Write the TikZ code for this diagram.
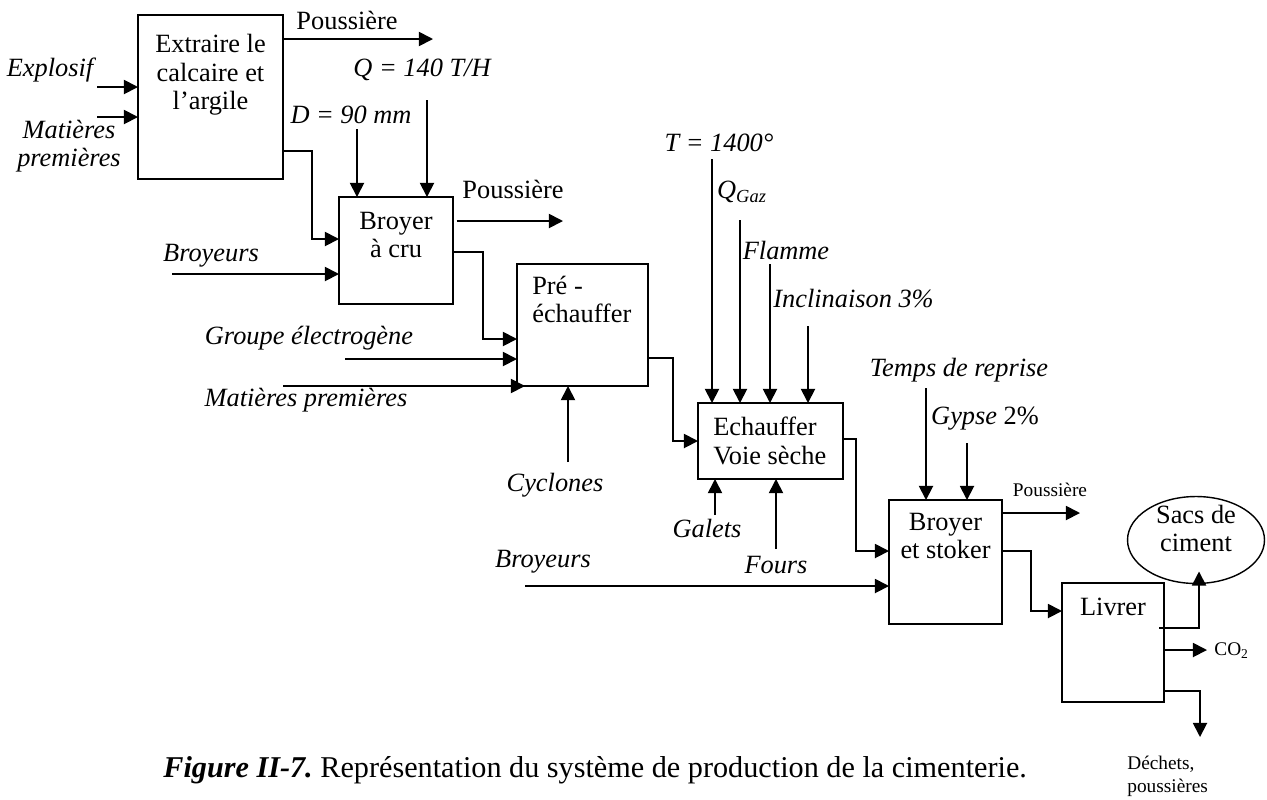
\documentclass[tikz,border=0pt]{standalone}
\usepackage{fontspec}
\setmainfont{Liberation Serif}
\usepackage{tikz}
\usetikzlibrary{calc,arrows.meta,positioning,shapes.geometric}
\frenchspacing
\tikzset{
    process/.style={draw,line width=0.8pt,inner sep=0pt,outer sep=0pt},
    stage/.style={inner sep=0pt,align=center,font=\fontsize{15}{16}\selectfont},
    stageleft/.style={stage,align=left},
    param/.style={inner sep=0pt,align=center,font=\fontsize{15}{16}\selectfont\itshape},
    product/.style={inner sep=0pt,font=\fontsize{15}{16}\selectfont},
    smallproduct/.style={inner sep=0pt,align=left,font=\fontsize{11}{13}\selectfont},
    flow/.style={->,>={Triangle[length=8pt,width=8pt]},line width=1pt}
}
\begin{document}
\begin{tikzpicture}[x=0.02cm,y=-0.02cm]
\useasboundingbox (0,0) rectangle (1267,799);
\node[process,minimum width=2.9cm,minimum height=3.28cm] (extr) at (210.5,97) {};
\node[process,minimum width=2.28cm,minimum height=2.14cm] (cru) at (396,250.5) {};
\node[process,minimum width=2.62cm,minimum height=2.44cm] (pre) at (582.5,325) {};
\node[process,minimum width=2.9cm,minimum height=1.52cm] (four) at (770.5,441) {};
\node[process,minimum width=2.26cm,minimum height=2.48cm] (stock) at (945.5,562) {};
\node[process,minimum width=2.04cm,minimum height=2.38cm] (livr) at (1113,642.5) {};
\node[process,ellipse,minimum width=2.74cm,minimum height=1.74cm] (sacs) at (1196,540) {};
\node[stage,below=11pt of extr.north] (extrtxt) {Extraire le\\calcaire et\\l’argile};
\node[stage,below=8.5pt of cru.north] (crutxt) {Broyer\\à cru};
\node[stageleft,below right=6.5pt and 8.5pt of pre.north west] (pretxt) {Pré -\\échauffer};
\node[stageleft,below right=8pt and 8.5pt of four.north west] (fourtxt) {Echauffer\\Voie sèche};
\node[stage,below=7.4pt of stock.north] (stocktxt) {Broyer\\et stoker};
\node[stage,below=8.5pt of livr.north] (livrtxt) {Livrer};
\node[stage,below=4.5pt of sacs.north] (sacstxt) {Sacs de\\ciment};

\coordinate (dust1) at (433,39);
\coordinate (explo) at (97,87);
\coordinate (rawA) at (97,117);
\coordinate (diam) at (357,129);
\coordinate (debit) at (427,100);
\coordinate (dust2) at (563,221);
\coordinate (crusher) at (172,274);
\coordinate (genset) at (345,359);
\coordinate (rawB) at (283,386);
\coordinate (cyclo) at (568,462);
\coordinate (temp) at (712,159);
\coordinate (gaz) at (740,220);
\coordinate (flame) at (770,264);
\coordinate (slope) at (808,326);
\coordinate (pebble) at (715,515);
\coordinate (kiln) at (776,549);
\coordinate (crusherB) at (525,586);
\coordinate (delay) at (926,388);
\coordinate (gyp) at (967,443);
\coordinate (dust3) at (1080,513);
\coordinate (gas) at (1207,650);
\coordinate (waste) at (1200,737);

\draw[flow] ($(extr.east)+(0,-58)$) -- (dust1);
\draw[flow] (explo) -- (explo -| extr.west);
\draw[flow] (rawA) -- (rawA -| extr.west);
\draw[flow] ($(extr.east)+(0,54)$) -- ++(29,0) |- ($(cru.west)+(0,-11.5)$);
\draw[flow] (diam) -- (diam |- cru.north);
\draw[flow] (debit) -- (debit |- cru.north);
\draw[flow,shorten <=2pt] (dust2 -| cru.east) -- (dust2);
\draw[flow] (crusher) -- (crusher -| cru.west);
\draw[flow] ($(cru.east)+(0,1.5)$) -- ++(30,0) |- ($(pre.west)+(0,14)$);
\draw[flow] (genset) -- (genset -| pre.west);
\draw[flow] (rawB) -- ($(pre.south west)+(8,0)$);
\draw[flow] (cyclo) -- (cyclo |- pre.south);
\draw[flow] ($(pre.east)+(0,33)$) -- ++(25,0) |- (four.west);
\draw[flow] (temp) -- (temp |- four.north);
\draw[flow] (gaz) -- (gaz |- four.north);
\draw[flow] (flame) -- (flame |- four.north);
\draw[flow] (slope) -- (slope |- four.north);
\draw[flow] (pebble) -- (pebble |- four.south);
\draw[flow] (kiln) -- (kiln |- four.south);
\draw[flow] ($(four.east)+(0,-2)$) -- ++(13,0) |- ($(stock.west)+(0,-11)$);
\draw[flow] (crusherB) -- (crusherB -| stock.west);
\draw[flow] (delay) -- (delay |- stock.north);
\draw[flow] (gyp) -- (gyp |- stock.north);
\draw[flow] ($(stock.east)+(0,-49)$) -- (dust3);
\draw[flow] ($(stock.east)+(0,-11)$) -- ++(29,0) |- ($(livr.west)+(0,-31.5)$);
\draw[flow] ($(livr.east)+(-5,-14.5)$) -| ($(sacs.south)+(3,-12)$);
\draw[flow] ($(livr.east)+(0,7.5)$) -- (gas);
\draw[flow] ($(livr.east)+(0,48.5)$) -| (waste);

\node[product] (dust1lbl) at (347,20) {Poussière};
\node[param] (explolbl) at (50,70) {Explosif};
\node[param] (rawAlbl) at (69,146) {Matières\\premières};
\node[param] (diamlbl) at (351,115) {D = 90 mm};
\node[param] (debitlbl) at (422,70) {Q = 140 T/H};
\node[param] (crusherlbl) at (211,256) {Broyeurs};
\node[product] (dust2lbl) at (513,189) {Poussière};
\node[param] (gensetlbl) at (309,338) {Groupe électrogène};
\node[param] (rawBlbl) at (306,400) {Matières premières};
\node[param] (cyclolbl) at (555,485) {Cyclones};
\node[param] (templbl) at (719,143) {T = 1400°};
\node[param] (gazlbl) at (742,192) {Q\textsubscript{Gaz}};
\node[param] (flamelbl) at (786,250) {Flamme};
\node[param,anchor=west] (slopelbl) at (773,299) {Inclinaison 3\%};
\node[param] (pebblelbl) at (707,528) {Galets};
\node[param] (kilnlbl) at (776,565) {Fours};
\node[param] (crusherBlbl) at (543,562) {Broyeurs};
\node[param] (delaylbl) at (959,370) {Temps de reprise};
\node[param] (gyplbl) at (985,419) {Gypse \textup{2\%}};
\node[smallproduct] (dust3lbl) at (1050,490) {Poussière};
\node[smallproduct,anchor=west] (gaslbl) at (1214,651) {CO\textsubscript{2}};
\node[smallproduct,anchor=north west] (wastelbl) at (1127,756) {Déchets,\\poussières};
\node[inner sep=0pt,anchor=west,font=\fontsize{17.2}{19}\selectfont] (caption) at (163,770) {\textbf{\textit{Figure II-7.}} Représentation du système de production de la cimenterie.};
\end{tikzpicture}
\end{document}
